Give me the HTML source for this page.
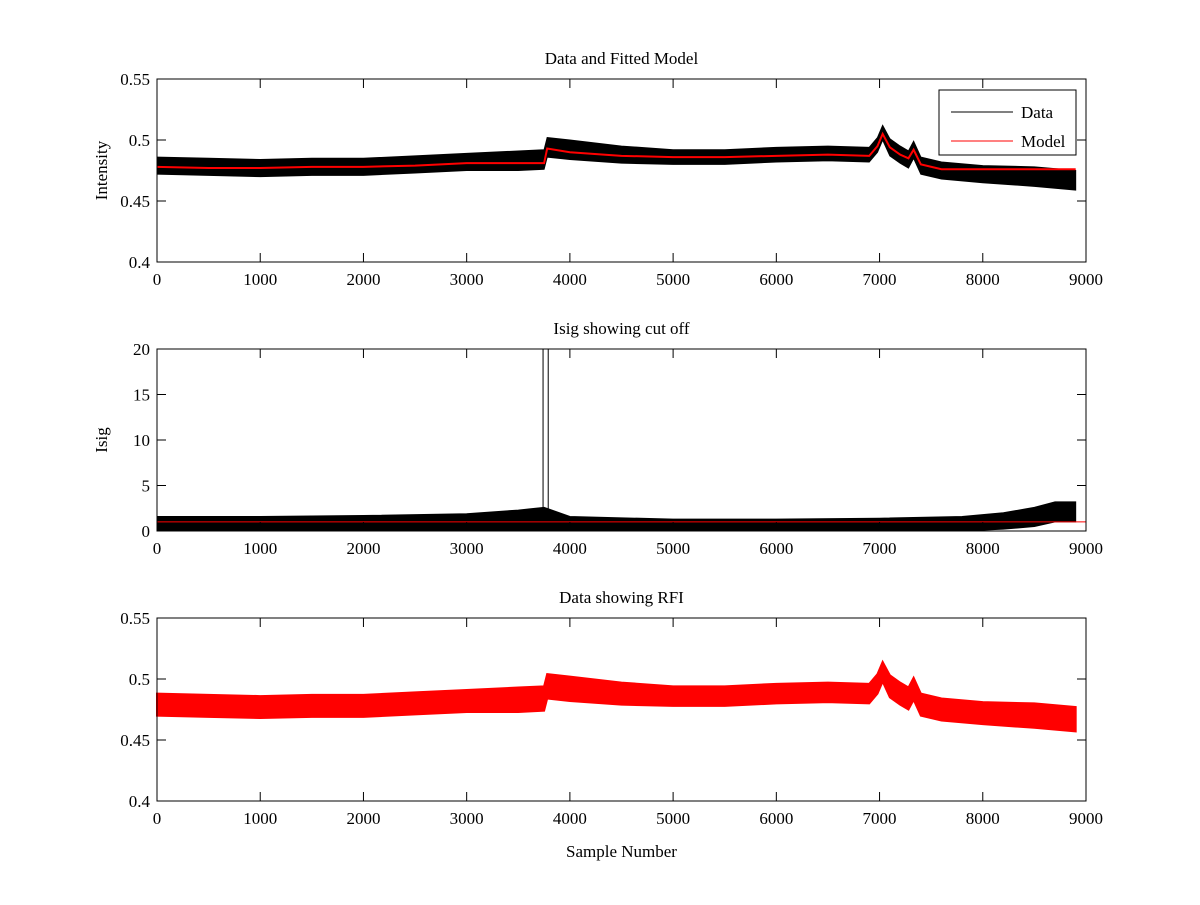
<!DOCTYPE html>
<html><head><meta charset="utf-8"><style>
body{margin:0;background:#fff;}
svg text{font-family:"Liberation Serif",serif;font-size:17px;fill:#000;}
</style></head><body>
<svg id="fig" width="1200" height="900" xmlns="http://www.w3.org/2000/svg"></svg>
<script>
// Data (envelopes)
const sx    = [0,500,1000,1500,2000,2500,3000,3500,3750,3780,4000,4500,5000,5500,6000,6500,6900,6980,7030,7100,7200,7280,7330,7400,7600,8000,8500,8900];
const model = [0.478,0.477,0.477,0.478,0.478,0.479,0.481,0.481,0.481,0.493,0.490,0.487,0.486,0.486,0.487,0.488,0.487,0.495,0.505,0.494,0.488,0.485,0.492,0.480,0.476,0.476,0.476,0.476];
const dataV = [0.479,0.478,0.477,0.478,0.478,0.480,0.482,0.483,0.484,0.494,0.492,0.488,0.486,0.486,0.488,0.489,0.488,0.496,0.506,0.494,0.488,0.484,0.492,0.479,0.475,0.472,0.470,0.467];
const halfW = [0.007,0.007,0.007,0.007,0.007,0.007,0.007,0.008,0.008,0.008,0.008,0.007,0.006,0.006,0.006,0.006,0.006,0.006,0.006,0.007,0.007,0.007,0.007,0.007,0.007,0.007,0.008,0.008];
const isx   = [0,1000,2000,3000,3500,3750,4000,5000,6000,7000,7800,8200,8500,8700,8900];
const isHi  = [1.6,1.6,1.7,1.9,2.3,2.6,1.6,1.3,1.3,1.4,1.6,2.0,2.6,3.2,3.2];
const isLo  = [0,0,0,0,0,0,0,0,0,0,0,0.2,0.5,1.0,1.0];
const spikeX = [3740,3790];
const cutoff = 1;
const xTicks = [0,1000,2000,3000,4000,5000,6000,7000,8000,9000];
const yTicksA = [0.4,0.45,0.5,0.55];
const yTicksB = [0,5,10,15,20];

const svg=document.getElementById('fig');
const NS='http://www.w3.org/2000/svg';
function mk(tag,attrs,parent){const e=document.createElementNS(NS,tag);for(const k in attrs)e.setAttribute(k,attrs[k]);(parent||svg).appendChild(e);return e;}
const X0=157,X1=1086;
const xs=v=>X0+(v/9000)*(X1-X0);

function axes(name,top,bot,ymin,ymax,yt,title,ylabel,xlabel){
  const g=mk('g',{});
  
  
  const ys=v=>bot-(v-ymin)/(ymax-ymin)*(bot-top);
  return {g,ys,finish(){
    const f=mk('rect',{x:X0,y:top,width:X1-X0,height:bot-top,fill:'none',stroke:'#000','stroke-width':1},g);
    
    xTicks.forEach(t=>{const x=xs(t);
      mk('line',{x1:x,x2:x,y1:bot,y2:bot-9,stroke:'#000'},g);
      mk('line',{x1:x,x2:x,y1:top,y2:top+9,stroke:'#000'},g);
      const tx=mk('text',{x:x,y:bot+23,'text-anchor':'middle'},g);tx.textContent=t;
      });
    yt.forEach(t=>{const y=ys(t);
      mk('line',{x1:X0,x2:X0+9,y1:y,y2:y,stroke:'#000'},g);
      mk('line',{x1:X1,x2:X1-9,y1:y,y2:y,stroke:'#000'},g);
      const tx=mk('text',{x:X0-7,y:y+6,'text-anchor':'end'},g);tx.textContent=t;
      });
    const tt=mk('text',{x:(X0+X1)/2,y:top-15,'text-anchor':'middle'},g);tt.textContent=title;
    
    if(ylabel){const yl=mk('text',{x:0,y:0,'text-anchor':'middle',transform:`translate(${X0-50},${(top+bot)/2}) rotate(-90)`},g);yl.textContent=ylabel;
      }
    if(xlabel){const xl=mk('text',{x:(X0+X1)/2,y:bot+56,'text-anchor':'middle'},g);xl.textContent=xlabel;
      }
  }};
}
function band(g,ys,xArr,lo,hi,color,name,sw){
  let d='M'+xArr.map((v,i)=>xs(v)+','+ys(hi[i])).join(' L');
  d+=' L'+xArr.map((v,i)=>i).reverse().map(i=>xs(xArr[i])+','+ys(lo[i])).join(' L')+' Z';
  const p=mk('path',{d,fill:color,stroke:color,'stroke-width':sw},g);
  
}
function line(g,ys,xArr,yArr,color,name,w){
  const p=mk('polyline',{points:xArr.map((v,i)=>xs(v)+','+ys(yArr[i])).join(' '),fill:'none',stroke:color,'stroke-width':w},g);
  
}

// Panel 1
const A=axes('data-fitted-panel',79,262,0.4,0.55,yTicksA,'Data and Fitted Model','Intensity');
band(A.g,A.ys,sx,dataV.map((v,i)=>v-halfW[i]),dataV.map((v,i)=>v+halfW[i]),'#000','data-series',1);
line(A.g,A.ys,sx,model,'#f00','model-series',2);
A.finish();
const lg=mk('g',{});
mk('rect',{x:939,y:90,width:137,height:65,fill:'#fff',stroke:'#000'},lg);
mk('line',{x1:951,x2:1013,y1:112,y2:112,stroke:'#000'},lg);
mk('line',{x1:951,x2:1013,y1:141,y2:141,stroke:'#f00'},lg);
let t=mk('text',{x:1021,y:118},lg);t.textContent='Data';
t=mk('text',{x:1021,y:147},lg);t.textContent='Model';

// Panel 2
const B=axes('isig-panel',349,531,0,20,yTicksB,'Isig showing cut off','Isig');
band(B.g,B.ys,isx,isLo,isHi,'#000','isig-series',1);
spikeX.forEach(s=>{const l=mk('line',{x1:xs(s),x2:xs(s),y1:B.ys(0),y2:B.ys(20),stroke:'#000'},B.g);
  });
const cl=mk('line',{x1:X0,x2:X1,y1:B.ys(cutoff),y2:B.ys(cutoff),stroke:'#f00','stroke-width':1},B.g);

B.finish();

// Panel 3
const C=axes('rfi-panel',618,801,0.4,0.55,yTicksA,'Data showing RFI',null,'Sample Number');
band(C.g,C.ys,sx,dataV.map((v,i)=>v-halfW[i]-0.002),dataV.map((v,i)=>v+halfW[i]+0.002),'#f00','rfi-data-series',2);
C.finish();
</script>
</body></html>
